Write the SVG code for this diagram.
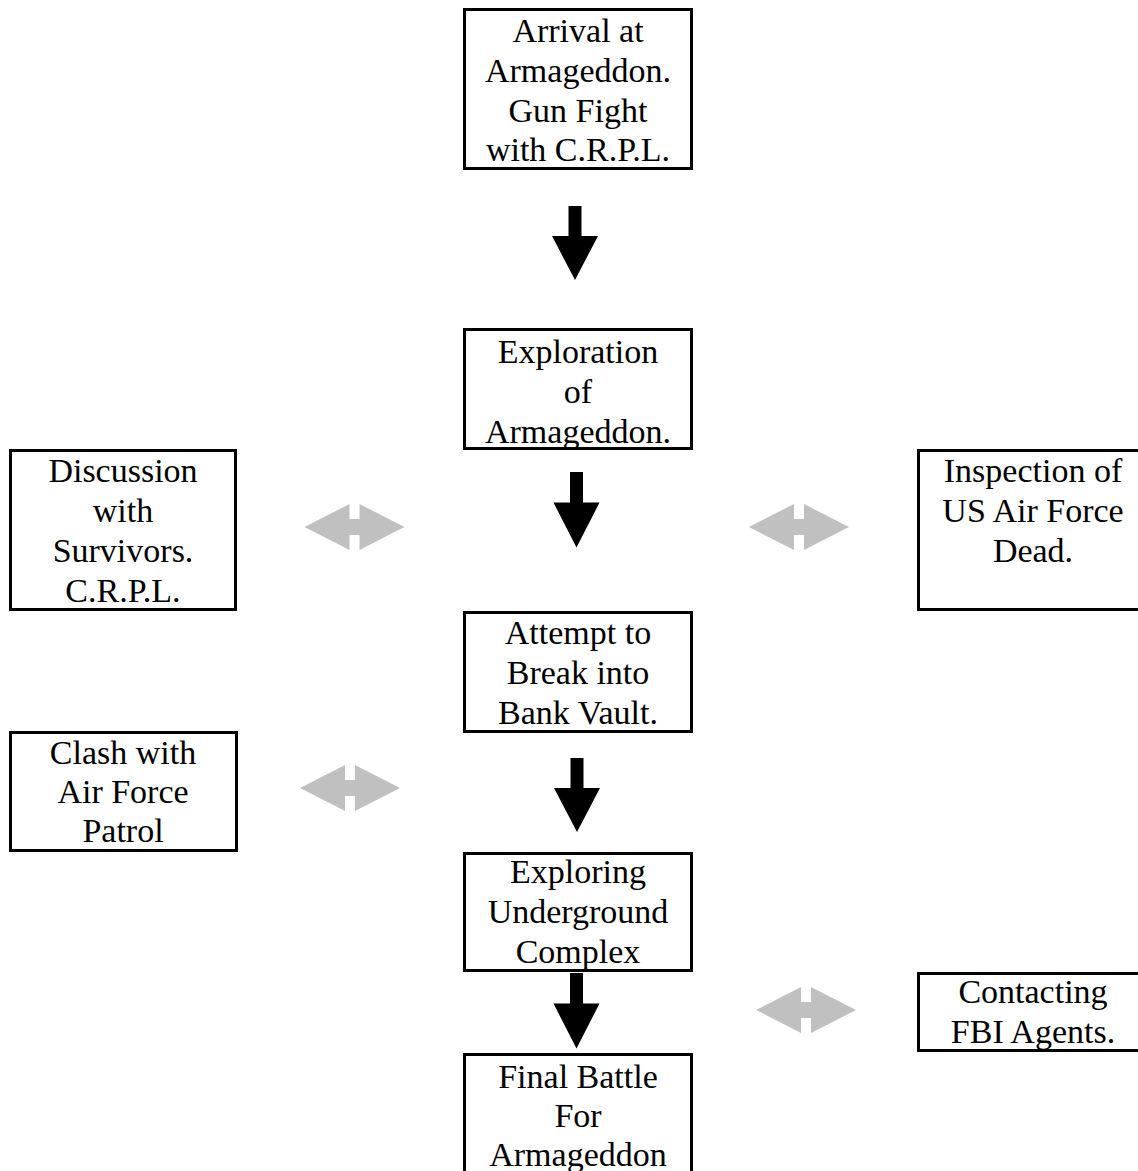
<svg xmlns="http://www.w3.org/2000/svg" width="1138" height="1171" viewBox="0 0 1138 1171">
<style>
.box{fill:#fff;stroke:#000;stroke-width:3}
.t{font-family:"Liberation Serif","Times New Roman",serif;font-size:34px;fill:#000;text-anchor:middle}
.blk{fill:#000}
.gry{fill:#c0c0c0}
</style>
<defs>
<path id="down" d="M-6.5,0 L6.5,0 L6.5,30 L23,30 L0,74 L-23,30 L-6.5,30 Z"/>
<path id="dbl" d="M-50,0 L-5,-23 L-5,-8 L5,-8 L5,-23 L50,0 L5,23 L5,8 L-5,8 L-5,23 Z"/>
</defs>
<rect width="1138" height="1171" fill="#fff"/>
<g id="connectors">
<use href="#down" class="blk" transform="translate(575,206)"/>
<use href="#down" class="blk" transform="translate(576.5,472) scale(1,1.02)"/>
<use href="#down" class="blk" transform="translate(577,758)"/>
<use href="#down" class="blk" transform="translate(576.5,973) scale(1,1.02)"/>
<use href="#dbl" class="gry" transform="translate(354.5,527)"/>
<use href="#dbl" class="gry" transform="translate(799,527)"/>
<use href="#dbl" class="gry" transform="translate(350,788)"/>
<use href="#dbl" class="gry" transform="translate(806,1010)"/>
</g>
<g id="n-arrival">
<rect class="box" x="464.5" y="9.5" width="227" height="159"/>
<text class="t" x="578" y="42">Arrival at</text>
<text class="t" x="578" y="82">Armageddon.</text>
<text class="t" x="578" y="122">Gun Fight</text>
<text class="t" x="578" y="161">with C.R.P.L.</text>
</g>
<g id="n-exploration">
<rect class="box" x="464.5" y="329.5" width="227" height="119"/>
<text class="t" x="578" y="363">Exploration</text>
<text class="t" x="578" y="403">of</text>
<text class="t" x="578" y="443">Armageddon.</text>
</g>
<g id="n-vault">
<rect class="box" x="464.5" y="612.5" width="227" height="119"/>
<text class="t" x="578" y="644">Attempt to</text>
<text class="t" x="578" y="684">Break into</text>
<text class="t" x="578" y="724">Bank Vault.</text>
</g>
<g id="n-underground">
<rect class="box" x="464.5" y="853.5" width="227" height="117"/>
<text class="t" x="578" y="883">Exploring</text>
<text class="t" x="578" y="923">Underground</text>
<text class="t" x="578" y="963">Complex</text>
</g>
<g id="n-final">
<rect class="box" x="464.5" y="1054.5" width="227" height="200"/>
<text class="t" x="578" y="1088">Final Battle</text>
<text class="t" x="578" y="1127">For</text>
<text class="t" x="578" y="1166">Armageddon</text>
</g>
<g id="n-discussion">
<rect class="box" x="10.5" y="450.5" width="225" height="159"/>
<text class="t" x="123" y="482">Discussion</text>
<text class="t" x="123" y="522">with</text>
<text class="t" x="123" y="562">Survivors.</text>
<text class="t" x="123" y="602">C.R.P.L.</text>
</g>
<g id="n-clash">
<rect class="box" x="10.5" y="732.5" width="226" height="118"/>
<text class="t" x="123" y="764">Clash with</text>
<text class="t" x="123" y="803">Air Force</text>
<text class="t" x="123" y="842">Patrol</text>
</g>
<g id="n-inspection">
<rect class="box" x="918.5" y="450.5" width="240" height="159"/>
<text class="t" x="1033" y="482">Inspection of</text>
<text class="t" x="1033" y="522">US Air Force</text>
<text class="t" x="1033" y="562">Dead.</text>
</g>
<g id="n-fbi">
<rect class="box" x="918.5" y="973.5" width="240" height="77"/>
<text class="t" x="1033" y="1003">Contacting</text>
<text class="t" x="1033" y="1043">FBI Agents.</text>
</g>
</svg>
